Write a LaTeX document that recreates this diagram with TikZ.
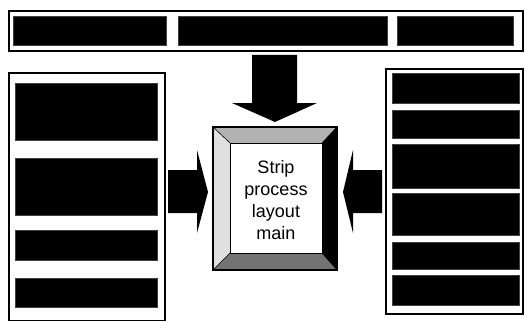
\documentclass[tikz,border=0pt]{standalone}
\usepackage{fontspec}
\setmainfont{Liberation Sans}
\usepackage{tikz}
\usetikzlibrary{positioning}

\begin{document}
\begin{tikzpicture}[x=1pt, y=-1pt]
    \tikzstyle{frame} = [rectangle, draw, line width=1.6pt, inner sep=0pt, anchor=north west]
    \tikzstyle{slot} = [rectangle, draw=black!75, fill=black, line width=0.6pt, inner sep=0pt, anchor=north west]
    \tikzstyle{blockarrow} = [fill=black]

    \useasboundingbox (0,0) rectangle (525,321);

    % top strip
    \node [frame, minimum width=514pt, minimum height=40pt] (top) at (8,10) {};
    \node [slot, minimum width=153pt, minimum height=29pt] (t1) at (13,16) {};
    \node [slot, minimum width=209pt, minimum height=29pt] (t2) at (178,16) {};
    \node [slot, minimum width=116pt, minimum height=29pt] (t3) at (397,16) {};

    % left panel
    \node [frame, minimum width=156pt, minimum height=248pt] (left) at (8,72) {};
    \node [slot, minimum width=142pt, minimum height=57pt] (l1) at (15,83) {};
    \node [slot, minimum width=142pt, minimum height=57pt] (l2) at (15,158) {};
    \node [slot, minimum width=142pt, minimum height=30pt] (l3) at (15,230) {};
    \node [slot, minimum width=142pt, minimum height=29pt] (l4) at (15,278) {};

    % right panel
    \node [frame, minimum width=137pt, minimum height=245pt] (right) at (385,68) {};
    \node [slot, minimum width=127pt, minimum height=30pt] (r1) at (392,73) {};
    \node [slot, minimum width=127pt, minimum height=28pt] (r2) at (392,110) {};
    \node [slot, minimum width=127pt, minimum height=44pt] (r3) at (392,144) {};
    \node [slot, minimum width=127pt, minimum height=42pt] (r4) at (392,193) {};
    \node [slot, minimum width=127pt, minimum height=27pt] (r5) at (392,242) {};
    \node [slot, minimum width=127pt, minimum height=30pt] (r6) at (392,275) {};

    % main box with bevel
    \coordinate (o1) at (213,127);
    \coordinate (o2) at (337,127);
    \coordinate (o3) at (337,270);
    \coordinate (o4) at (213,270);
    \coordinate (i1) at (230,143);
    \coordinate (i2) at (322,143);
    \coordinate (i3) at (322,253);
    \coordinate (i4) at (230,253);
    \fill [black!30] (o1) -- (o2) -- (i2) -- (i1) -- cycle;
    \fill [black!12] (o1) -- (i1) -- (i4) -- (o4) -- cycle;
    \fill [black] (o2) -- (o3) -- (i3) -- (i2) -- cycle;
    \fill [black!55] (o4) -- (i4) -- (i3) -- (o3) -- cycle;
    \draw [line width=1.2pt] (o1) -- (o2) -- (o3) -- (o4) -- cycle;
    \draw [line width=0.8pt] (i1) -- (i2) -- (i3) -- (i4) -- cycle;
    \draw [line width=0.6pt] (o1) -- (i1) (o2) -- (i2) (o3) -- (i3) (o4) -- (i4);
    \node [align=center, font=\fontsize{18}{22}\selectfont, inner sep=0pt] (main) at (276,200) {Strip\\process\\layout\\main};

    % block arrows
    \fill [blockarrow] (252,55) -- (297,55) -- (297,103) -- (317,103) -- (275,122) -- (232,103) -- (252,103) -- cycle;
    \fill [blockarrow] (168,170) -- (197,170) -- (197,150) -- (208,192) -- (197,233) -- (197,213) -- (168,213) -- cycle;
    \fill [blockarrow] (382,170) -- (353,170) -- (353,150) -- (343,192) -- (353,233) -- (353,213) -- (382,213) -- cycle;
\end{tikzpicture}
\end{document}
